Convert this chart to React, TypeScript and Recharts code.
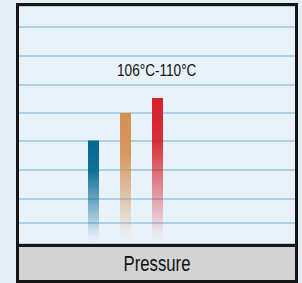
import { BarChart, Bar, XAxis, YAxis, CartesianGrid } from "recharts";

const categories = ["Pressure"];
const lowValues = [103.5];
const midValues = [131];
const highValues = [146];
const gridTicks = [21, 45, 74, 103, 131, 159, 188, 217];
const rangeLabel = "106°C-110°C";

const SERIES = [
  { key: "low", color: "#00678f" },
  { key: "mid", color: "#d48f50" },
  { key: "high", color: "#d6202a" },
];

const data = categories.map((name, i) => ({
  name,
  low: lowValues[i],
  mid: midValues[i],
  high: highValues[i],
}));

const font = '"Liberation Sans", Arial, sans-serif';

export default function App() {
  return (
    <div
      style={{
        position: "fixed",
        left: 0,
        top: 0,
        width: 302,
        height: 283,
        background: "#e6eef6",
        overflow: "hidden",
      }}
    >
      <div
        style={{
          position: "absolute",
          left: 16,
          top: 3,
          width: 282,
          height: 280,
          boxSizing: "border-box",
          border: "3px solid #151515",
          background: "#e9f1f9",
        }}
      >
        <BarChart
          width={276}
          height={238}
          data={data}
          margin={{ top: 0, right: 0, bottom: 0, left: 0 }}
          barSize={11}
          barGap={21}
        >
          <defs>
            {SERIES.map((s) => (
              <linearGradient key={s.key} id={`grad-${s.key}`} x1="0" y1="0" x2="0" y2="1">
                <stop offset="0%" stopColor={s.color} stopOpacity={1} />
                <stop offset="30%" stopColor={s.color} stopOpacity={0.92} />
                <stop offset="75%" stopColor={s.color} stopOpacity={0.3} />
                <stop offset="92%" stopColor={s.color} stopOpacity={0.04} />
                <stop offset="100%" stopColor={s.color} stopOpacity={0} />
              </linearGradient>
            ))}
          </defs>
          <CartesianGrid vertical={false} stroke="#add0e3" strokeWidth={2} />
          <XAxis dataKey="name" hide padding={{ left: 0, right: 64 }} />
          <YAxis hide domain={[0, 238]} ticks={gridTicks} />
          {SERIES.map((s) => (
            <Bar
              key={s.key}
              dataKey={s.key}
              fill={`url(#grad-${s.key})`}
              isAnimationActive={false}
            />
          ))}
        </BarChart>
        <div
          style={{
            position: "absolute",
            left: 38,
            width: 200,
            top: 57,
            textAlign: "center",
            fontFamily: font,
            fontSize: 16,
            lineHeight: "16px",
            color: "#111",
          }}
        >
          <span style={{ display: "inline-block", transform: "scaleX(0.85)" }}>{rangeLabel}</span>
        </div>
        <div
          style={{
            height: 33,
            borderTop: "3px solid #151515",
            background: "#d3d3d3",
            textAlign: "center",
            fontFamily: font,
            fontSize: 22,
            lineHeight: "33px",
            color: "#111",
          }}
        >
          <span style={{ display: "inline-block", transform: "scaleX(0.76)" }}>{categories[0]}</span>
        </div>
      </div>
    </div>
  );
}
